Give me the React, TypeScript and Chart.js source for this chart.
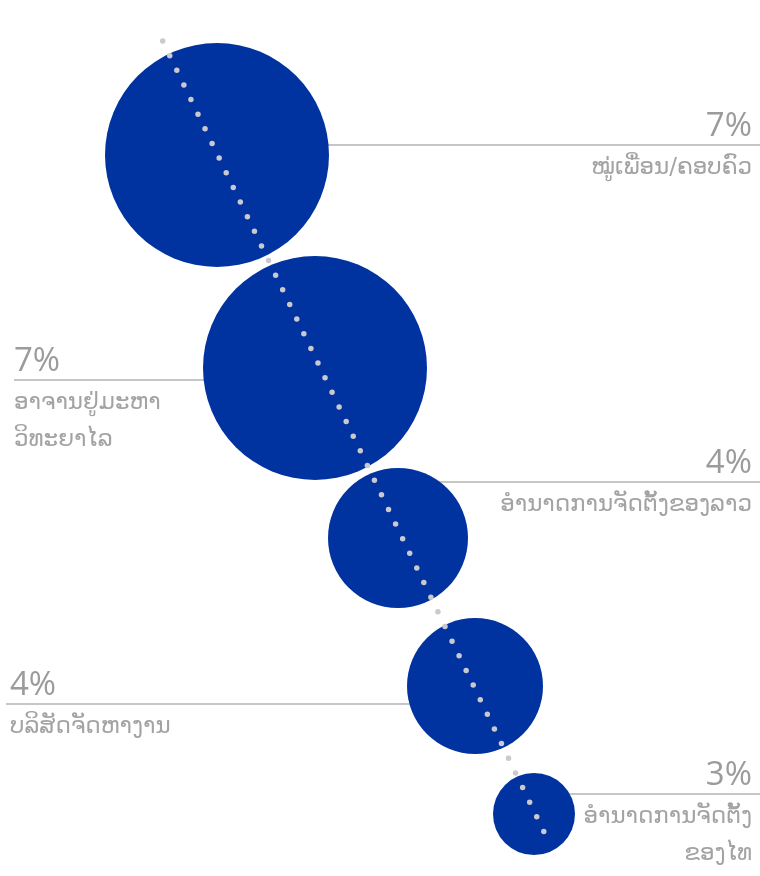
import React, { useEffect, useRef } from "react";
import { Chart, registerables } from "chart.js";

Chart.register(...registerables);

// Categories (Lao) — each entry may have multiple lines
const categories: string[][] = [
  ["ໝູ່ເພື່ອນ/ຄອບຄົວ"],
  ["ອາຈານຢູ່ມະຫາ", "ວິທະຍາໄລ"],
  ["ອຳນາດການຈັດຕັ້ງຂອງລາວ"],
  ["ບລິສັດຈັດຫາງານ"],
  ["ອຳນາດການຈັດຕັ້ງ", "ຂອງໄທ"],
];
const percentLabels = ["7%", "7%", "4%", "4%", "3%"];
// bubble centres and radii
const bubbleX = [217, 315, 398, 475, 534];
const bubbleY = [155, 368, 538, 686, 814];
const bubbleR = [112, 112, 70, 68, 41];
// dotted guide line end points
const guideX = [162.7, 546];
const guideY = [41, 836];

const BLUE = "#00339f";
const GREY_LINE = "#c6c6c6";
const GREY_TEXT = "#9b9b9b";
const GREY_LAO = "#a3a3a3";

// label layout: side and leader-line offset from bubble centre
const labelSide = ["right", "left", "right", "left", "right"];
const leaderOffset = [-10, 12, -56, 18, -20];
const leftEdge = [14, 6];
const leftText = [14, 10];

const labelPlugin = {
  id: "leaderLabels",
  beforeDatasetsDraw(chart: any) {
    const ctx = chart.ctx;
    const xs = chart.scales.x;
    const ys = chart.scales.y;
    ctx.save();
    ctx.strokeStyle = GREY_LINE;
    ctx.lineWidth = 2;
    let leftIdx = 0;
    bubbleX.forEach((bx, i) => {
      const cx = xs.getPixelForValue(bx);
      const cy = ys.getPixelForValue(bubbleY[i]) + leaderOffset[i];
      ctx.beginPath();
      if (labelSide[i] === "right") {
        ctx.moveTo(cx, cy);
        ctx.lineTo(chart.width, cy);
      } else {
        ctx.moveTo(leftEdge[leftIdx++], cy);
        ctx.lineTo(cx, cy);
      }
      ctx.stroke();
    });
    ctx.restore();
  },
  afterDraw(chart: any) {
    const ctx = chart.ctx;
    const ys = chart.scales.y;
    ctx.save();
    ctx.textBaseline = "alphabetic";
    let leftIdx = 0;
    bubbleX.forEach((_bx, i) => {
      const cy = ys.getPixelForValue(bubbleY[i]) + leaderOffset[i];
      let tx: number;
      if (labelSide[i] === "right") {
        ctx.textAlign = "right";
        tx = chart.width - 8;
      } else {
        ctx.textAlign = "left";
        tx = leftText[leftIdx++];
      }
      ctx.fillStyle = GREY_TEXT;
      ctx.font = "33px 'Open Sans', 'DejaVu Sans', sans-serif";
      ctx.fillText(percentLabels[i], tx, cy - 9);
      ctx.fillStyle = GREY_LAO;
      ctx.font = "23px 'DejaVu Sans', 'Noto Sans', sans-serif";
      categories[i].forEach((line, k) => {
        ctx.fillText(line, tx, cy + 29 + k * 37);
      });
    });
    ctx.restore();
  },
};

export default function App() {
  const ref = useRef<HTMLCanvasElement>(null);
  useEffect(() => {
    document.body.style.margin = "0";
    const chart = new Chart(ref.current!, {
      type: "bubble",
      data: {
        datasets: [
          {
            type: "line",
            data: guideX.map((x, i) => ({ x, y: guideY[i] })),
            borderColor: "#c9c9cf",
            borderWidth: 5.5,
            borderDash: [0, 16.25],
            borderCapStyle: "round",
            pointRadius: 0,
            fill: false,
            clip: false,
            order: 0,
          } as any,
          {
            type: "bubble",
            data: bubbleX.map((x, i) => ({ x, y: bubbleY[i], r: bubbleR[i] })),
            backgroundColor: BLUE,
            borderWidth: 0,
            hoverBorderWidth: 0,
            clip: false,
            order: 1,
          } as any,
        ],
      },
      options: {
        animation: false,
        responsive: false,
        maintainAspectRatio: false,
        layout: { padding: 0, autoPadding: false },
        plugins: {
          legend: { display: false },
          tooltip: { enabled: false },
        },
        scales: {
          x: { type: "linear", min: 0, max: 760, display: false },
          y: { type: "linear", min: 0, max: 876, reverse: true, display: false },
        },
      },
      plugins: [labelPlugin],
    });
    return () => chart.destroy();
  }, []);
  return (
    <div style={{ position: "fixed", left: 0, top: 0, width: 760, height: 876 }}>
      <canvas ref={ref} width={760} height={876} style={{ display: "block" }} />
    </div>
  );
}
